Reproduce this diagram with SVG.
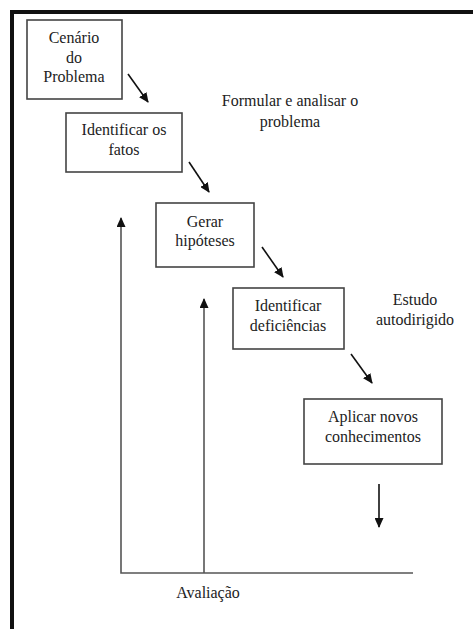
<svg xmlns="http://www.w3.org/2000/svg" width="473" height="629" viewBox="0 0 473 629">
<defs>
<marker id="ah" markerWidth="10" markerHeight="9" refX="9" refY="4.5" orient="auto" markerUnits="userSpaceOnUse">
<path d="M0,0 L10,4.5 L0,9 Z" fill="#111"/>
</marker>
<style>
.box{fill:#fff;stroke:#444;stroke-width:1.6}
.t{font-family:'Liberation Serif','DejaVu Serif','Times New Roman',serif;font-size:16px;fill:#222;text-anchor:middle}
.c{stroke:#111;stroke-width:1.6;fill:none}
.l{stroke:#555;stroke-width:1.6;fill:none}
</style>
</defs>
<rect width="473" height="629" fill="#fff"/>
<g id="frame">
<line x1="12" y1="12" x2="473" y2="12" stroke="#111" stroke-width="4"/>
<line x1="12" y1="10" x2="12" y2="629" stroke="#111" stroke-width="4"/>
</g>
<g id="n1"><rect class="box" x="27" y="20" width="95" height="79"/>
<text class="t" x="74" y="43">Cenário</text><text class="t" x="74" y="63">do</text><text class="t" x="74" y="82">Problema</text></g>
<g id="n2"><rect class="box" x="66" y="113" width="116" height="59"/>
<text class="t" x="124" y="135">Identificar os</text><text class="t" x="124" y="155">fatos</text></g>
<g id="n3"><rect class="box" x="156" y="203" width="98" height="64"/>
<text class="t" x="205" y="227">Gerar</text><text class="t" x="205" y="246">hipóteses</text></g>
<g id="n4"><rect class="box" x="233" y="288" width="111" height="61"/>
<text class="t" x="288" y="311">Identificar</text><text class="t" x="288" y="331">deficiências</text></g>
<g id="n5"><rect class="box" x="304" y="399" width="138" height="65"/>
<text class="t" x="373" y="422">Aplicar novos</text><text class="t" x="373" y="442">conhecimentos</text></g>
<g id="labels">
<text class="t" x="290" y="106">Formular e analisar o</text>
<text class="t" x="290" y="127">problema</text>
<text class="t" x="415" y="305">Estudo</text>
<text class="t" x="415" y="325">autodirigido</text>
<text class="t" x="208" y="598">Avaliação</text>
</g>
<g id="connectors">
<line class="c" x1="128" y1="74" x2="148" y2="102" marker-end="url(#ah)"/>
<line class="c" x1="189" y1="162" x2="209" y2="192" marker-end="url(#ah)"/>
<line class="c" x1="262" y1="247" x2="283" y2="277" marker-end="url(#ah)"/>
<line class="c" x1="351" y1="354" x2="372" y2="383" marker-end="url(#ah)"/>
<line class="c" x1="379" y1="484" x2="379" y2="527" marker-end="url(#ah)"/>
<polyline class="l" points="413,573 121,573 121,218" marker-end="url(#ah)"/>
<line class="l" x1="204" y1="573" x2="204" y2="299" marker-end="url(#ah)"/>
</g>
</svg>
